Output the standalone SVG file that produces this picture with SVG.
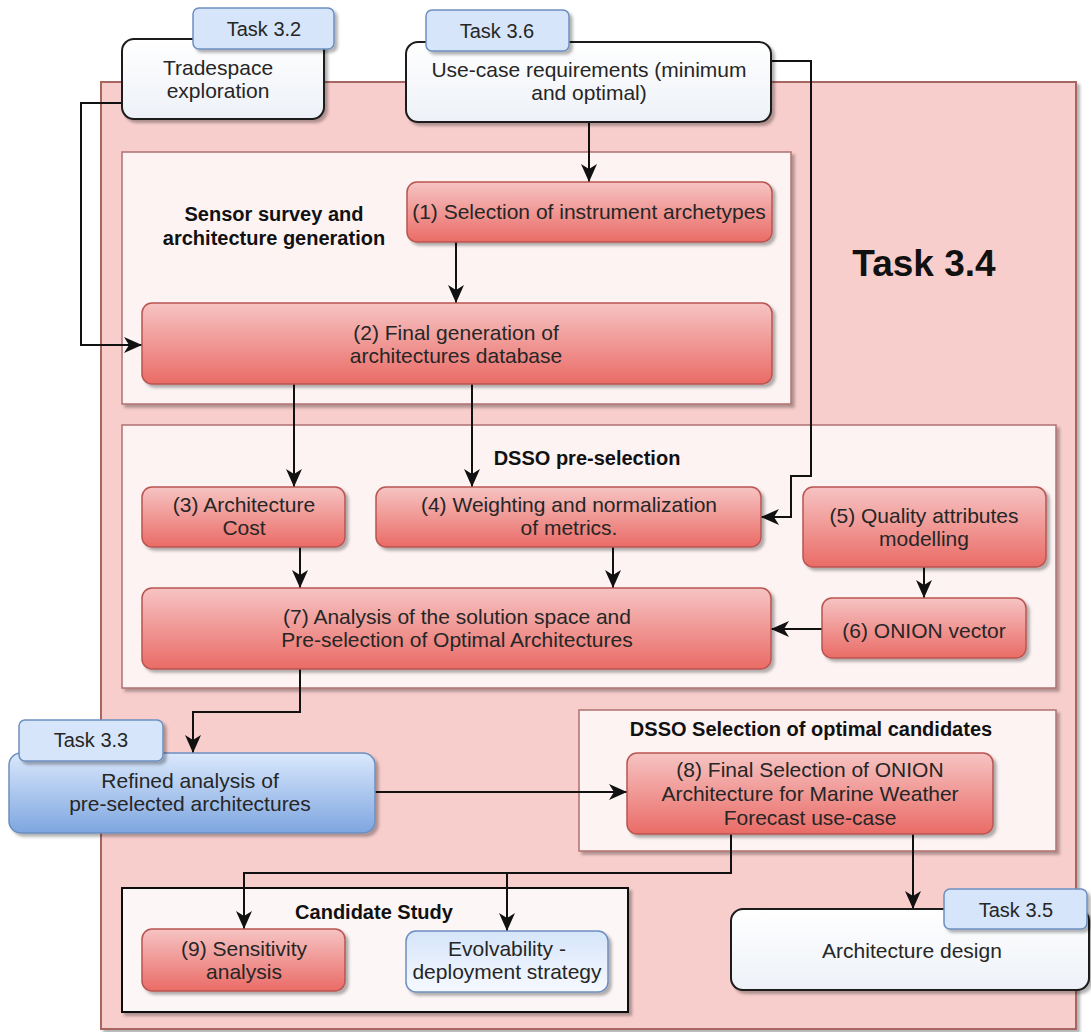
<svg xmlns="http://www.w3.org/2000/svg" width="1091" height="1032" viewBox="0 0 1091 1032">
<style>
text{font-family:"Liberation Sans",Arial,sans-serif;fill:#262626;text-anchor:middle}
.t{font-size:21px}
.lb{font-size:20px;font-weight:bold;fill:#111}
.tk{font-size:20px}
.big{font-size:37px;font-weight:bold;fill:#111}
.red{fill:url(#gRed);stroke:#b85450;stroke-width:1.5}
.wht{fill:url(#gWht);stroke:#1a1a1a;stroke-width:2}
.blu{fill:url(#gBlu);stroke:#6c8ebf;stroke-width:1.5}
.lblu{fill:url(#gLBlu);stroke:#6c8ebf;stroke-width:1.5}
.tag{fill:#d6e5f9;stroke:#6c8ebf;stroke-width:1.5}
.cont{fill:#fdf3f3;stroke:#b07070;stroke-width:1.5}
.edge{fill:none;stroke:#111;stroke-width:2;marker-end:url(#arr)}
</style>
<defs>
<linearGradient id="gRed" x1="0" y1="0" x2="0" y2="1"><stop offset="0" stop-color="#f6c4c3"/><stop offset="1" stop-color="#ea6b66"/></linearGradient>
<linearGradient id="gWht" x1="0" y1="0" x2="0" y2="1"><stop offset="0" stop-color="#ffffff"/><stop offset="1" stop-color="#edf1f7"/></linearGradient>
<linearGradient id="gBlu" x1="0" y1="0" x2="0" y2="1"><stop offset="0" stop-color="#dae8fc"/><stop offset="1" stop-color="#7ea6e0"/></linearGradient>
<linearGradient id="gLBlu" x1="0" y1="0" x2="0" y2="1"><stop offset="0" stop-color="#d6e5fa"/><stop offset="1" stop-color="#f6f9ff"/></linearGradient>
<filter id="sh" x="-5%" y="-5%" width="115%" height="130%"><feDropShadow dx="3" dy="3" stdDeviation="1.5" flood-color="#000" flood-opacity="0.3"/></filter>
<marker id="arr" markerUnits="userSpaceOnUse" markerWidth="18" markerHeight="16" refX="18" refY="8" orient="auto"><path d="M0,0 L18,8 L0,16 L5,8 Z" fill="#111"/></marker>
</defs>

<g id="task34">
<rect x="101" y="82" width="975" height="947" fill="#f8cecc" stroke="#a86664" stroke-width="2" filter="url(#sh)"/>
<text class="big" x="924" y="276">Task 3.4</text>
</g>

<g id="sensor-survey">
<rect class="cont" x="122" y="152" width="669" height="252" filter="url(#sh)"/>
<text class="lb" x="274" y="221">Sensor survey and</text>
<text class="lb" x="274" y="245">architecture generation</text>
</g>
<g id="dsso-preselection">
<rect class="cont" x="122" y="425" width="934" height="263" filter="url(#sh)"/>
<text class="lb" x="587" y="465">DSSO pre-selection</text>
</g>
<g id="dsso-selection">
<rect class="cont" x="579" y="710" width="477" height="141" filter="url(#sh)"/>
<text class="lb" x="811" y="736">DSSO Selection of optimal candidates</text>
</g>
<g id="candidate-study">
<rect x="122" y="888" width="506" height="124" fill="#fdf6f6" stroke="#111" stroke-width="2" filter="url(#sh)"/>
<text class="lb" x="374" y="919">Candidate Study</text>
</g>

<g id="connectors">
<path class="edge" d="M122,103 H81 V345 H142"/>
<path class="edge" d="M589,122 V182"/>
<path class="edge" d="M771,61 H811 V476 H791 V517 H761"/>
<path class="edge" d="M456,242 V303"/>
<path class="edge" d="M294,384 V487"/>
<path class="edge" d="M472,384 V487"/>
<path class="edge" d="M300,547 V588"/>
<path class="edge" d="M613,547 V588"/>
<path class="edge" d="M924,567 V598"/>
<path class="edge" d="M822,629 H771"/>
<path class="edge" d="M300,669 V712 H193 V753"/>
<path class="edge" d="M375,792 H627"/>
<path class="edge" d="M731,834 V873 H244 V929"/>
<path class="edge" d="M507,873 V931"/>
<path class="edge" d="M913,834 V909"/>
</g>

<g id="tradespace">
<rect class="wht" x="122" y="39" width="202" height="80" rx="12" filter="url(#sh)"/>
<text class="t" x="218" y="75">Tradespace</text>
<text class="t" x="218" y="98">exploration</text>
</g>
<g id="task32">
<rect class="tag" x="193" y="8" width="141" height="41" rx="6" filter="url(#sh)"/>
<text class="tk" x="264" y="36">Task 3.2</text>
</g>
<g id="use-case">
<rect class="wht" x="406" y="42" width="365" height="80" rx="12" filter="url(#sh)"/>
<text class="t" x="589" y="77">Use-case requirements (minimum</text>
<text class="t" x="589" y="100">and optimal)</text>
</g>
<g id="task36">
<rect class="tag" x="426" y="10" width="143" height="41" rx="6" filter="url(#sh)"/>
<text class="tk" x="497" y="38">Task 3.6</text>
</g>

<g id="n1">
<rect class="red" x="407" y="182" width="365" height="60" rx="10" filter="url(#sh)"/>
<text class="t" x="589" y="219">(1) Selection of instrument archetypes</text>
</g>
<g id="n2">
<rect class="red" x="142" y="303" width="630" height="81" rx="10" filter="url(#sh)"/>
<text class="t" x="456" y="340">(2) Final generation of</text>
<text class="t" x="456" y="363">architectures database</text>
</g>
<g id="n3">
<rect class="red" x="142" y="487" width="203" height="60" rx="10" filter="url(#sh)"/>
<text class="t" x="244" y="512">(3) Architecture</text>
<text class="t" x="244" y="535">Cost</text>
</g>
<g id="n4">
<rect class="red" x="376" y="487" width="385" height="60" rx="10" filter="url(#sh)"/>
<text class="t" x="569" y="512">(4) Weighting and normalization</text>
<text class="t" x="569" y="535">of metrics.</text>
</g>
<g id="n5">
<rect class="red" x="803" y="487" width="243" height="80" rx="10" filter="url(#sh)"/>
<text class="t" x="924" y="523">(5) Quality attributes</text>
<text class="t" x="924" y="546">modelling</text>
</g>
<g id="n6">
<rect class="red" x="822" y="598" width="204" height="60" rx="10" filter="url(#sh)"/>
<text class="t" x="924" y="638">(6) ONION vector</text>
</g>
<g id="n7">
<rect class="red" x="142" y="588" width="629" height="81" rx="10" filter="url(#sh)"/>
<text class="t" x="457" y="624">(7) Analysis of the solution space and</text>
<text class="t" x="457" y="647">Pre-selection of Optimal Architectures</text>
</g>
<g id="n8">
<rect class="red" x="627" y="753" width="366" height="81" rx="10" filter="url(#sh)"/>
<text class="t" x="810" y="777">(8) Final Selection of ONION</text>
<text class="t" x="810" y="801">Architecture for Marine Weather</text>
<text class="t" x="810" y="825">Forecast use-case</text>
</g>
<g id="refined">
<rect class="blu" x="9" y="753" width="366" height="80" rx="12" filter="url(#sh)"/>
<text class="t" x="190" y="788">Refined analysis of</text>
<text class="t" x="190" y="811">pre-selected architectures</text>
</g>
<g id="task33">
<rect class="tag" x="19" y="720" width="144" height="41" rx="6" filter="url(#sh)"/>
<text class="tk" x="91" y="747">Task 3.3</text>
</g>
<g id="n9">
<rect class="red" x="142" y="929" width="203" height="62" rx="10" filter="url(#sh)"/>
<text class="t" x="244" y="956">(9) Sensitivity</text>
<text class="t" x="244" y="979">analysis</text>
</g>
<g id="evolvability">
<rect class="lblu" x="406" y="931" width="202" height="61" rx="10" filter="url(#sh)"/>
<text class="t" x="507" y="956">Evolvability -</text>
<text class="t" x="507" y="979">deployment strategy</text>
</g>
<g id="arch-design">
<rect class="wht" x="731" y="909" width="358" height="81" rx="12" filter="url(#sh)"/>
<text class="t" x="912" y="958">Architecture design</text>
</g>
<g id="task35">
<rect class="tag" x="944" y="889" width="143" height="40" rx="6" filter="url(#sh)"/>
<text class="tk" x="1016" y="917">Task 3.5</text>
</g>
</svg>
